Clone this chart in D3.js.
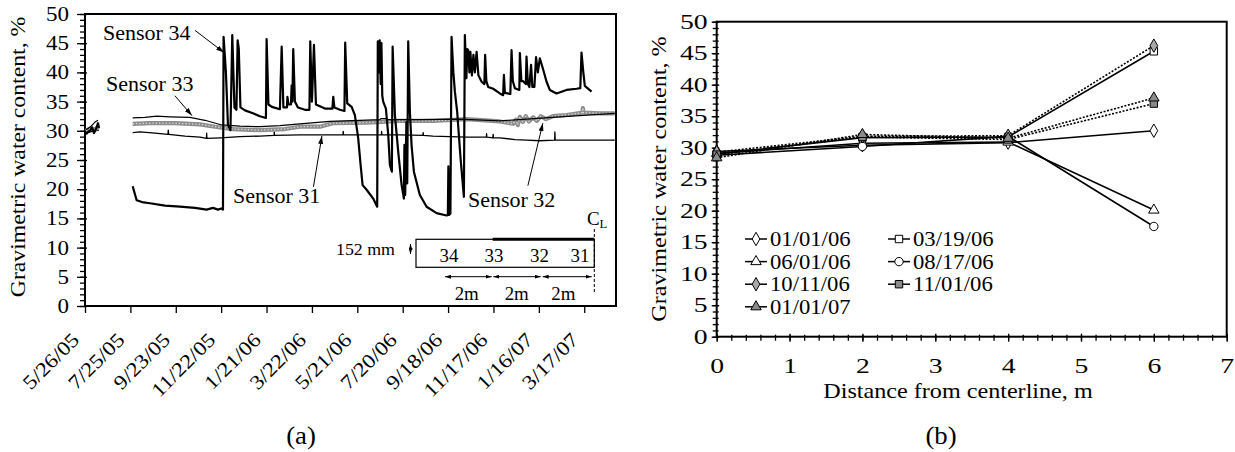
<!DOCTYPE html>
<html>
<head>
<meta charset="utf-8">
<script src="https://cdn.jsdelivr.net/npm/d3@7/dist/d3.min.js"></script>
<style>
html,body{margin:0;padding:0;background:#fff;}
svg{display:block;}
svg text{font-family:'Liberation Serif','Tinos','Times New Roman','Nimbus Roman','DejaVu Serif',serif !important;fill:#000;}
</style>
</head>
<body>
<svg id="chart" width="1235" height="452" font-family="Liberation Serif, Tinos, Times New Roman, DejaVu Serif, serif"></svg>
<script>
// ================= DATA =================
// (a) time series: days since 5/26/05, gravimetric water content (%), null = gap
const dateTickLabels = ["5/26/05","7/25/05","9/23/05","11/22/05","1/21/06","3/22/06","5/21/06","7/20/06","9/18/06","11/17/06","1/16/07","3/17/07"];
const dateAxisEndDay = 702;
const waterTicks = [0,5,10,15,20,25,30,35,40,45,50];

const s34Day = [1.3,4.0,6.6,9.3,11.9,14.5,17.2,18.5,19,
  63.0,68.3,75.3,85.9,105.7,125.6,145.4,160.8,169.2,175.8,180.4,182.4,183.2,186.3,189.0,192.3,194.7,197.6,200.2,201.8,203.3,205.5,
  211.5,222.0,231.3,239.2,240.1,242.5,247.1,257.7,260.0,262.3,267.0,267.6,269.0,272.3,273.2,274.2,275.3,277.5,281.5,290.8,296.7,
  297.8,300.0,302.7,305.3,317.2,327.1,328.2,329.7,337.0,343.0,344.0,346.7,352.5,356.8,361.2,364.4,367.0,372.3,381.0,386.3,
  387.1,388.6,389.6,390.9,391.9,393.0,394.2,397.8,400.9,403.1,405.7,406.7,409.7,414.1,418.6,421.6,422.3,423.3,424.9,426.0,
  427.3,429.5,431.7,434.8,442.7,451.6,464.8,478.0,479.7,480.4,481.3,483.1,484.6,487.0,489.0,492.0,496.5,500.9,502.2,504.2,
  505.5,506.6,508.2,509.5,511.5,513.5,515.4,517.7,520.1,524.3,528.0,529.0,530.6,533.0,539.6,544.1,548.5,552.8,553.8,555.1,
  562.3,563.9,565.6,568.3,574.2,574.9,576.9,579.3,582.8,583.7,585.5,587.5,589.7,591.4,594.1,596.3,598.7,601.3,605.7,610.2,
  614.5,623.4,636.6,649.8,654.8,656.4,658.8,660.8,669.7];
const s34Val = [29.4,29.8,30.0,30.6,29.6,30.3,31.3,30.5,null,
  20.5,18.1,17.8,17.6,17.2,17.0,16.8,16.5,16.8,16.5,16.7,16.5,46.1,40,31,30.1,46.4,34,33.6,45.5,44.1,34,
  33.5,33.0,32.5,32.2,45.7,34.5,34.1,33.7,44.4,34,34,35.8,34.5,34.5,37.8,35,44.0,35,34,33.6,33.6,
  45.3,35,44.7,34.5,33.8,33.8,35.8,34,33.6,33.4,45.1,34.7,34.1,32.7,28.7,24.1,20.7,19.9,18.4,17.0,
  45.3,40,45.5,38,45,36,35.0,33.8,29.3,24.1,23.0,44.4,32.7,26.4,20.7,18.4,27.6,19,31.5,21,
  45.3,33.3,27.6,23.0,19.0,17.0,15.9,15.5,15.6,23.9,15.6,15.8,46.1,40,36.7,33.3,25.3,18.7,46.4,39.0,
  44,43.8,40,43.5,39.5,43,40,43.5,39.5,38.4,38,43.0,38.5,37.5,37.2,36.8,36.4,36.1,39.6,36.5,
  36.3,43.8,38.5,37.3,37,43.3,38.5,38.5,38,42.7,38,37.5,41.3,37.5,37.5,42.6,40,42.4,40.5,38.4,
  37.0,36.4,37.0,37.2,37.3,43.4,40,37.7,36.7];

const s33Day = [1.3,6.6,13.2,17.2,19,
  63.0,79.3,94.8,112.3,138.8,158.6,180.7,204.8,231.3,257.7,284.1,323.8,363.4,389.9,391.2,397.8,399.1,442.7,495.6,548.5,627.8,700.4];
const s33Val = [30.2,30.6,31.5,31.8,null,
  32.2,32.3,32.5,32.4,32.3,31.8,31.0,30.8,30.7,30.9,31.2,31.6,31.8,31.9,32.1,32.1,31.9,31.9,32.0,31.7,32.4,33.0];

const s32Day = [1.3,6.6,13.2,18.5,19,
  63.0,85.9,118.9,152.0,171.8,195.6,231.3,264.3,284.1,310.6,327.8,372.3,416.3,459.9,504.4,548.5,566.0,569.6,572.2,574.9,
  578.9,582.8,586.8,592.4,597.4,602.7,609.3,618.5,636.6,647.6,657.5,658.2,658.8,680.6,700.4];
const s32Val = [30.0,30.4,30.2,30.8,null,
  31.2,31.3,31.3,31.1,30.7,30.3,30.1,30.3,30.7,30.7,31.3,31.4,31.7,31.7,32.0,31.6,31.2,31.9,31.0,32.4,
  31.5,32.5,31.6,32.3,31.7,32.5,32.0,32.5,32.7,32.9,33.1,33.9,33.1,33.0,33.0];

const s31Day = [1.3,9.3,18.5,19,
  63.0,72.7,92.5,109.7,110.1,110.7,132.2,152.0,160.6,160.8,161.2,179.7,204.8,231.3,250.0,250.2,250.6,284.1,310.6,341.0,341.4,
  341.8,391.9,392.1,392.5,416.3,446.7,447.1,447.5,459.9,504.8,530.6,530.9,531.3,539.2,539.6,540.0,548.5,568.3,584.1,601.3,
  620.9,621.2,621.6,641.0,680.6,700.4];
const s31Val = [29.6,29.9,30.1,null,
  29.7,29.8,29.6,29.4,30.1,29.4,29.1,28.9,28.7,29.6,28.7,28.8,29.0,29.1,29.2,29.8,29.2,29.3,29.3,29.3,29.9,
  29.3,29.3,29.9,29.3,29.3,29.2,29.7,29.2,29.1,28.9,28.9,29.5,28.9,28.8,29.4,28.8,28.8,28.5,28.4,28.3,
  28.4,29.8,28.4,28.4,28.4,28.4];

// (b) profiles: distance from centerline (m) vs water content (%)
const distances = [0,2,4,6];
const distanceTicks = [0,1,2,3,4,5,6,7];
const surveyLabels = ["01/01/06","03/19/06","06/01/06","08/17/06","10/11/06","11/01/06","01/01/07"];
const wc_010106 = [29.4,30.4,30.8,32.7];
const wc_031906 = [29.0,31.6,31.7,45.3];
const wc_060106 = [29.1,30.7,30.9,20.1];
const wc_081706 = [28.8,30.2,31.8,17.5];
const wc_101106 = [29.3,31.8,31.9,46.2];
const wc_110106 = [28.9,31.7,31.3,37.0];
const wc_010107 = [28.4,32.1,31.5,37.9];
const surveyValues = [wc_010106,wc_031906,wc_060106,wc_081706,wc_101106,wc_110106,wc_010107];

// ================= STYLE =================
const FONT = "'Liberation Serif','Tinos','Times New Roman','Nimbus Roman','DejaVu Serif',serif";
const surveySymbol = [d3.symbolDiamond,d3.symbolSquare,d3.symbolTriangle,d3.symbolCircle,d3.symbolDiamond,d3.symbolSquare,d3.symbolTriangle];
const surveyFill   = ["#fff","#fff","#fff","#fff","#a8a8a8","#8a8a8a","#8a8a8a"];
const surveyDash   = [null,null,null,null,"2,1.6","2,1.6","2,1.6"];

// ================= DRAW =================
const svg = d3.select("#chart");
const defs = svg.append("defs");
function mkArrow(id,w,h){
  defs.append("marker").attr("id",id).attr("viewBox",`0 0 ${w} ${h}`)
    .attr("refX",w).attr("refY",h/2).attr("markerWidth",w).attr("markerHeight",h)
    .attr("markerUnits","userSpaceOnUse").attr("orient","auto-start-reverse")
    .append("path").attr("d",`M0,0L${w},${h/2}L0,${h}Z`).attr("fill","#000");
}
mkArrow("ah",8,5); mkArrow("ahs",6,4);

function txt(g,x,y,str,o={}){
  return g.append("text").attr("font-family",FONT)
    .attr("transform",`translate(${x},${y}) rotate(${o.rot||0}) scale(${o.k||1},1)`)
    .attr("text-anchor",o.anchor||"start").attr("font-size",o.size||20).text(str);
}
function stretchTicks(g,k,size){
  g.attr("font-family",FONT).attr("font-size",null);
  g.select(".domain").remove();
  g.selectAll(".tick line").attr("stroke","#000").attr("stroke-width",1.3);
  g.selectAll(".tick text").attr("font-family",FONT).attr("font-size",size).attr("fill","#000").each(function(){
    const t=d3.select(this);
    const x=+(t.attr("x")||0), y=+(t.attr("y")||0);
    t.attr("x",null).attr("y",null).attr("transform",`translate(${x},${y}) scale(${k},1)`);
  });
}

// ---------- Panel (a) ----------
const parseD = d3.timeParse("%m/%d/%y");
const t0 = parseD(dateTickLabels[0]);
const dayToDate = d => new Date(+t0 + d*864e5);
const L = {x0:85,x1:616,y0:14,y1:306};
const xA = d3.scaleTime().domain([t0, dayToDate(dateAxisEndDay)]).range([L.x0,L.x1]);
const yA = d3.scaleLinear().domain([0,50]).range([L.y1,L.y0]);
const gA = svg.append("g");

const gyAm = gA.append("g").attr("transform",`translate(${L.x0},0)`)
  .call(d3.axisLeft(yA).tickValues(d3.range(0,51,1)).tickSize(5).tickSizeOuter(0).tickFormat(""));
stretchTicks(gyAm,1,10);
const gyA = gA.append("g").attr("transform",`translate(${L.x0},0)`)
  .call(d3.axisLeft(yA).tickValues(waterTicks).tickSize(8).tickSizeOuter(0).tickPadding(8).tickFormat(d3.format("d")));
gyA.selectAll(".tick line").attr("x1",2);
stretchTicks(gyA,1.15,20);

const dateTicks = dateTickLabels.map(parseD);
const gxA = gA.append("g").attr("transform",`translate(0,${L.y1})`)
  .call(d3.axisBottom(xA).tickValues(dateTicks).tickSize(7).tickSizeOuter(0).tickFormat((d,i)=>dateTickLabels[i]));
gxA.attr("font-family",FONT).attr("font-size",null);
gxA.select(".domain").remove();
gxA.selectAll(".tick line").attr("stroke","#000").attr("stroke-width",1.3);
gxA.selectAll(".tick text").attr("x",null).attr("y",null).attr("dy",null)
  .attr("font-family",FONT).attr("text-anchor","end").attr("font-size",20).attr("fill","#000")
  .attr("transform","translate(-5,35) rotate(-45) scale(1.15,1)");

gA.append("rect").attr("x",L.x0).attr("y",L.y0).attr("width",L.x1-L.x0).attr("height",L.y1-L.y0)
  .attr("fill","none").attr("stroke","#000").attr("stroke-width",2);

txt(gA,25,157,"Gravimetric water content, %",{rot:-90,anchor:"middle",size:21,k:1.13});
txt(gA,301,444,"(a)",{anchor:"middle",size:26,k:1.03});

const mkPts=(ds,vs)=>ds.map((d,i)=>({d,v:vs[i]}));
const lineA = d3.line().defined(p=>p.v!=null).x(p=>xA(dayToDate(p.d))).y(p=>yA(p.v));
const gS = gA.append("g").attr("fill","none").attr("stroke-linejoin","round");
gS.append("path").datum(mkPts(s31Day,s31Val)).attr("d",lineA).attr("stroke","#000").attr("stroke-width",1.3);
gS.append("path").datum(mkPts(s32Day,s32Val)).attr("d",lineA).attr("stroke","#8c8c8c").attr("stroke-width",4.2);
gS.append("path").datum(mkPts(s32Day,s32Val)).attr("d",lineA).attr("stroke","#dedede").attr("stroke-width",1.3).attr("stroke-dasharray","1.3,2");
gS.append("path").datum(mkPts(s33Day,s33Val)).attr("d",lineA).attr("stroke","#000").attr("stroke-width",1.2);
gS.append("path").datum(mkPts(s34Day,s34Val)).attr("d",lineA).attr("stroke","#000").attr("stroke-width",2.2);

const sensorNotes = [
  {t:"Sensor 34", at:[23.8,45.5], from:[145.4,47.2], to:[183.8,43.4]},
  {t:"Sensor 33", at:[27.8,36.9], from:[118.9,36.0], to:[141.4,32.6]},
  {t:"Sensor 31", at:[195.6,17.6], from:[302.0,20.4], to:[313.2,29.1]},
  {t:"Sensor 32", at:[506.2,17.0], from:[585.5,20.6], to:[605.3,31.3]}
];
sensorNotes.forEach(n=>{
  txt(gA,xA(dayToDate(n.at[0])),yA(n.at[1]),n.t,{size:22,k:1.0});
  gA.append("line").attr("x1",xA(dayToDate(n.from[0]))).attr("y1",yA(n.from[1]))
    .attr("x2",xA(dayToDate(n.to[0]))).attr("y2",yA(n.to[1]))
    .attr("stroke","#000").attr("stroke-width",1).attr("marker-end","url(#ah)");
});

// inset schematic
const gI = gA.append("g");
gI.append("rect").attr("x",416).attr("y",239.3).attr("width",178.3).attr("height",28).attr("fill","none").attr("stroke","#000").attr("stroke-width",1.2);
gI.append("line").attr("x1",492.7).attr("x2",594.3).attr("y1",239.3).attr("y2",239.3).attr("stroke","#000").attr("stroke-width",3);
gI.append("line").attr("x1",594.3).attr("x2",594.3).attr("y1",229).attr("y2",292).attr("stroke","#000").attr("stroke-width",1).attr("stroke-dasharray","3,2");
txt(gI,336,254.5,"152 mm",{size:17,k:1.05});
gI.append("line").attr("x1",410.5).attr("x2",410.5).attr("y1",244).attr("y2",254).attr("stroke","#000").attr("stroke-width",1)
  .attr("marker-start","url(#ahs)").attr("marker-end","url(#ahs)");
[["34",449],["33",494],["32",539.5],["31",580]].forEach(([s,x])=>txt(gI,x,262,s,{size:18,anchor:"middle",k:1.05}));
[[445,491.7],[493.3,540.7],[542.7,591.7]].forEach(([a,b])=>{
  gI.append("line").attr("x1",a).attr("x2",b).attr("y1",276.7).attr("y2",276.7).attr("stroke","#000").attr("stroke-width",1)
    .attr("marker-start","url(#ahs)").attr("marker-end","url(#ahs)");
});
[466.7,516.7,563.3].forEach(x=>txt(gI,x,299.5,"2m",{size:18,anchor:"middle",k:1.05}));
const cl = txt(gI,587,225,"C",{size:18,k:1.05});
cl.append("tspan").attr("font-size",12).attr("dy",3).text("L");

// ---------- Panel (b) ----------
const R = {x0:716.7,x1:1226.7,y0:21.7,y1:336.7};
const xB = d3.scaleLinear().domain([0,7]).range([R.x0,R.x1]);
const yB = d3.scaleLinear().domain([0,50]).range([R.y1,R.y0]);
const gB = svg.append("g");

const gyBm = gB.append("g").attr("transform",`translate(${R.x0},0)`)
  .call(d3.axisLeft(yB).tickValues(d3.range(0,51,1)).tickSize(4).tickSizeOuter(0).tickFormat(""));
gyBm.selectAll(".tick line").attr("x1",2);
stretchTicks(gyBm,1,10);
const gyB = gB.append("g").attr("transform",`translate(${R.x0},0)`)
  .call(d3.axisLeft(yB).tickValues(waterTicks).tickSize(5).tickSizeOuter(0).tickPadding(4).tickFormat(d3.format("d")));
gyB.selectAll(".tick line").attr("x1",2.5);
stretchTicks(gyB,1.32,21);

const gxBm = gB.append("g").attr("transform",`translate(0,${R.y1})`)
  .call(d3.axisBottom(xB).tickValues(d3.range(0,7.01,0.2)).tickSize(4).tickSizeOuter(0).tickFormat(""));
gxBm.selectAll(".tick line").attr("y1",-2);
stretchTicks(gxBm,1,10);
const gxB = gB.append("g").attr("transform",`translate(0,${R.y1})`)
  .call(d3.axisBottom(xB).tickValues(distanceTicks).tickSize(5).tickSizeOuter(0).tickFormat(d3.format("d")));
gxB.selectAll(".tick line").attr("y1",-3);
gxB.selectAll(".tick text").attr("y",36).attr("dy",null);
stretchTicks(gxB,1.32,21);

gB.append("rect").attr("x",R.x0).attr("y",R.y0).attr("width",R.x1-R.x0).attr("height",R.y1-R.y0)
  .attr("fill","none").attr("stroke","#000").attr("stroke-width",2);

txt(gB,666,179,"Gravimetric water content, %",{rot:-90,anchor:"middle",size:21,k:1.15});
txt(gB,958,398,"Distance from centerline, m",{anchor:"middle",size:21,k:1.15});
txt(gB,941,444,"(b)",{anchor:"middle",size:26,k:1.03});

const lineB = d3.line().x((v,i)=>xB(distances[i])).y(v=>yB(v));
const symSize=[52,55,48,55,52,55,48];
surveyValues.forEach((vals,s)=>{
  gB.append("path").datum(vals).attr("d",lineB).attr("fill","none").attr("stroke","#000")
    .attr("stroke-width",1.6).attr("stroke-dasharray",surveyDash[s]);
});
surveyValues.forEach((vals,s)=>{
  gB.append("g").selectAll("path").data(vals).join("path")
    .attr("transform",(v,i)=>`translate(${xB(distances[i])},${yB(v)})`)
    .attr("d",d3.symbol(surveySymbol[s],symSize[s]))
    .attr("fill",surveyFill[s]).attr("stroke","#000").attr("stroke-width",1);
});

const gLg = gB.append("g");
surveyLabels.forEach((lab,s)=>{
  const col=s%2, row=Math.floor(s/2);
  const x = col===0?745:888, y = 246+row*22.6;
  gLg.append("line").attr("x1",x).attr("x2",x+22).attr("y1",y-7).attr("y2",y-7)
    .attr("stroke","#000").attr("stroke-width",1.5);
  gLg.append("path").attr("transform",`translate(${x+11},${y-7})`).attr("d",d3.symbol(surveySymbol[s],symSize[s]))
    .attr("fill",surveyFill[s]).attr("stroke","#000").attr("stroke-width",1);
  txt(gLg,x+25,y,lab,{size:22,k:1.03});
});
</script>
</body>
</html>
